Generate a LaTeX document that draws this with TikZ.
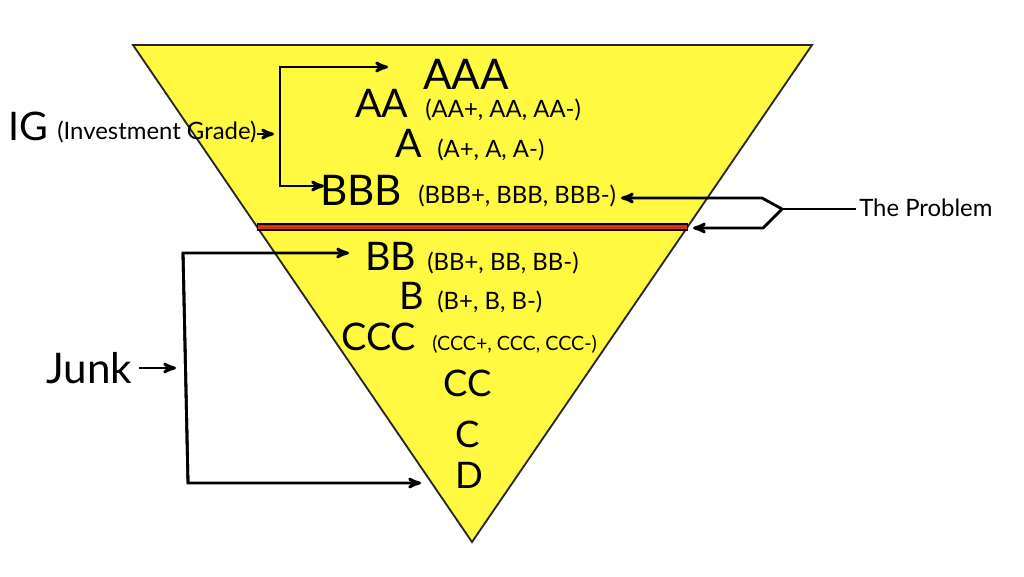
\documentclass[tikz,border=0pt]{standalone}
\usepackage{fontspec}
\setmainfont{Lato}
\usetikzlibrary{arrows}
\definecolor{pyryellow}{RGB}{255,250,65}
\definecolor{cutred}{RGB}{225,45,15}
\tikzset{
    link/.style={->,>=stealth',line width=2pt},
    grade/.style={anchor=base west,inner sep=0pt,font=\fontsize{30}{30}\selectfont},
    notch/.style={anchor=base west,inner sep=0pt,font=\fontsize{17}{17}\selectfont}
}

\begin{document}
\begin{tikzpicture}[x=0.025cm,y=-0.025cm]
\useasboundingbox (0,0) rectangle (1024,577);
% pyramid
\draw[fill=pyryellow,draw=black!85,line width=1.3pt] (133,45) -- (812,45) -- (472,542) -- cycle;
% the cut
\draw[line width=5pt] (257,227) -- (688,227);
\draw[cutred,line width=2.6pt] (258,227) -- (687,227);
% grades
\node[grade] (aaa) at (423,90) {AAA};
\node[grade,font=\fontsize{28}{28}\selectfont] (aa) at (355,118) {AA};
\node[notch] (aan) at (425,118) {(AA+, AA, AA-)};
\node[grade,font=\fontsize{28}{28}\selectfont] (a) at (395,157) {A};
\node[notch] (an) at (437,157) {(A+, A, A-)};
\node[grade] (bbb) at (320,205) {BBB};
\node[notch] (bbbn) at (418,203) {(BBB+, BBB, BBB-)};
\node[grade,font=\fontsize{28}{28}\selectfont] (bb) at (365,270) {BB};
\node[notch] (bbn) at (427,270) {(BB+, BB, BB-)};
\node[grade,font=\fontsize{27}{27}\selectfont] (b) at (399,309) {B};
\node[notch] (bn) at (437,309) {(B+, B, B-)};
\node[grade,font=\fontsize{27}{27}\selectfont] (ccc) at (341,350) {CCC};
\node[notch,font=\fontsize{14}{14}\selectfont] (cccn) at (432,350) {(CCC+, CCC, CCC-)};
\node[grade,font=\fontsize{26}{26}\selectfont] (cc) at (443,396) {CC};
\node[grade,font=\fontsize{26}{26}\selectfont] (c) at (455,447) {C};
\node[grade,font=\fontsize{26}{26}\selectfont] (d) at (455,488) {D};
% investment grade
\node[grade,font=\fontsize{28}{28}\selectfont] (ig) at (8,141) {IG};
\node[notch] (igtext) at (57,140) {(Investment Grade)};
\coordinate (igin) at (274,134);
\coordinate (igtop) at (280,67);
\coordinate (igbot) at (280,186);
\coordinate (aaain) at (388,67);
\coordinate (bbbin) at (324,186);
\draw[link] (igtext.east |- igin) -- (igin);
\draw[link] (igbot) -- (igtop) -- (aaain);
\draw[link] (igtop) -- (igbot) -- (bbbin);
% junk
\node[grade,font=\fontsize{30}{30}\selectfont] (junk) at (46,383) {Junk};
\coordinate (junkout) at (139,368);
\coordinate (junkin) at (176,368);
\coordinate (junktop) at (183,253);
\coordinate (junkbot) at (188,483);
\coordinate (bbin) at (349,253);
\coordinate (din) at (421,483);
\draw[link] (junkout) -- (junkin);
\draw[link] (junkbot) -- (junktop) -- (bbin);
\draw[link] (junktop) -- (junkbot) -- (din);
% the problem
\node[notch] (prob) at (859,216) {The Problem};
\coordinate (fork) at (782,209);
\coordinate (forkup) at (762,198);
\coordinate (forkdn) at (763,228);
\coordinate (bbbtip) at (621,198);
\coordinate (cuttip) at (693,228);
\draw[line width=2pt] ([xshift=-2]prob.west |- fork) -- (fork);
\draw[link] (fork) -- (forkup) -- (bbbtip);
\draw[link] (fork) -- (forkdn) -- (cuttip);
\end{tikzpicture}
\end{document}
